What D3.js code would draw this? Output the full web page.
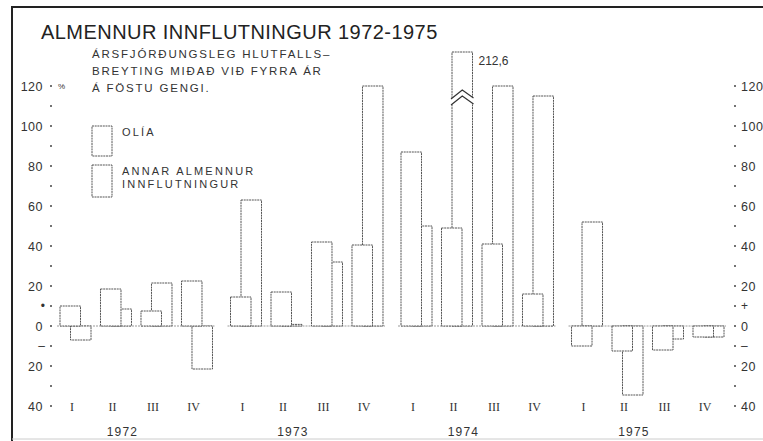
<!DOCTYPE html>
<html>
<head>
<meta charset="utf-8">
<script src="https://cdn.jsdelivr.net/npm/d3@7"></script>
<style>
  body { margin: 0; background: #fff; }
  text { font-family: "Liberation Sans", Arial, sans-serif; fill: #333; }
</style>
</head>
<body>
<script>
// quarterly % change vs previous year, fixed exchange rate
var years = ["1972", "1973", "1974", "1975"];
var quarters = ["I", "II", "III", "IV"];
// front (left) bar of each quarter
var annar = [10, 18.5, 7.5, 22.5, 14.5, 17, 42, 40.5, 87, 49, 41, 16, -10, -12.5, -12, -5.5];
// back (right) bar of each quarter
var olia = [-7, 8.5, 21.5, -21.5, 63, 0.8, 32, 120, 50, 212.6, 120, 115, 52, -34.5, -6.5, -5.5];
var yTicks = [-40, -20, 0, 20, 40, 60, 80, 100, 120];

var W = 763, H = 441;
var breakAt = 137; // truncated bars drawn up to this value

var svg = d3.select("body").append("svg")
  .attr("width", W)
  .attr("height", H);

var y = d3.scaleLinear().domain([-40, 120]).range([406, 86]);
var x0 = d3.scaleBand().domain(years).range([60, 733.5]).paddingInner(0.05);
var x1 = d3.scaleBand().domain(quarters).range([0, x0.bandwidth()]);
var bw = 20.5, off = 10.5;

var rows = [];
years.forEach(function (yr, i) {
  quarters.forEach(function (q, j) {
    rows.push({ year: yr, q: q, annar: annar[i * 4 + j], olia: olia[i * 4 + j] });
  });
});

function bx(d) { return x0(d.year) + x1(d.q); }
function barTop(v) { return Math.min(y(Math.min(v, breakAt)), y(0)); }
function barH(v) { return Math.abs(y(Math.min(v, breakAt)) - y(0)); }

// frame
svg.append("line").attr("x1", 12).attr("x2", 12).attr("y1", 6).attr("y2", H)
  .attr("stroke", "#222").attr("stroke-width", 2);
svg.append("line").attr("x1", 12).attr("x2", W).attr("y1", 7).attr("y2", 7)
  .attr("stroke", "#222").attr("stroke-width", 2);
svg.append("line").attr("x1", 12).attr("x2", W).attr("y1", 439).attr("y2", 439)
  .attr("stroke", "#ccc").attr("stroke-width", 1);

// title
svg.append("text").attr("x", 41).attr("y", 39)
  .style("font-size", "20px").style("letter-spacing", "0.45px").style("fill", "#222")
  .text("ALMENNUR INNFLUTNINGUR 1972-1975");

var sub = ["ÁRSFJÓRÐUNGSLEG HLUTFALLS–", "BREYTING MIÐAÐ VIÐ FYRRA ÁR", "Á FÖSTU GENGI."];
svg.selectAll("text.sub")
  .data(sub)
  .enter().append("text")
  .attr("class", "sub")
  .attr("x", 92)
  .attr("y", function (d, i) { return 58 + i * 17; })
  .style("font-size", "11.5px")
  .style("letter-spacing", "1.8px")
  .text(function (d) { return d; });

// axis dots both sides
var dots = d3.range(-40, 121, 10);
svg.selectAll("circle.ldot")
  .data(dots)
  .enter().append("circle")
  .attr("class", "ldot")
  .attr("cx", 51).attr("cy", function (d) { return y(d); })
  .attr("r", 1).attr("fill", "#444");
svg.selectAll("circle.rdot")
  .data(dots)
  .enter().append("circle")
  .attr("class", "rdot")
  .attr("cx", 735).attr("cy", function (d) { return y(d); })
  .attr("r", 1).attr("fill", "#444");

svg.selectAll("text.ly")
  .data(yTicks)
  .enter().append("text")
  .attr("class", "ly")
  .attr("x", 43).attr("y", function (d) { return y(d) + 4.5; })
  .attr("text-anchor", "end")
  .style("font-size", "12.5px").style("letter-spacing", "0.5px")
  .text(function (d) { return Math.abs(d); });
svg.selectAll("text.ry")
  .data(yTicks)
  .enter().append("text")
  .attr("class", "ry")
  .attr("x", 741).attr("y", function (d) { return y(d) + 4.5; })
  .style("font-size", "12.5px").style("letter-spacing", "0.5px")
  .text(function (d) { return Math.abs(d); });

svg.append("text").attr("x", 45).attr("y", y(10) + 4).attr("text-anchor", "end")
  .style("font-size", "12px").text("•");
svg.append("text").attr("x", 45).attr("y", y(-10) + 4).attr("text-anchor", "end")
  .style("font-size", "12px").text("–");
svg.append("text").attr("x", 741).attr("y", y(10) + 4)
  .style("font-size", "12px").text("+");
svg.append("text").attr("x", 741).attr("y", y(-10) + 4)
  .style("font-size", "12px").text("–");
svg.append("text").attr("x", 58).attr("y", y(120) + 3)
  .style("font-size", "8px").text("%");

// legend
var legend = [["OLÍA"], ["ANNAR ALMENNUR", "INNFLUTNINGUR"]];
var lg = svg.selectAll("g.leg")
  .data(legend)
  .enter().append("g")
  .attr("class", "leg")
  .attr("transform", function (d, i) { return "translate(92," + (126 + i * 39) + ")"; });
lg.append("rect").attr("width", 20).attr("height", function (d, i) { return i ? 32 : 30; })
  .attr("fill", "#fff").attr("stroke", "#555").attr("stroke-width", 1)
  .attr("stroke-dasharray", "2,0.7");
lg.selectAll("text")
  .data(function (d) { return d; })
  .enter().append("text")
  .attr("x", 30)
  .attr("y", function (d, i) { return 9.5 + i * 13; })
  .style("font-size", "11px").style("letter-spacing", "2.2px")
  .text(function (d) { return d; });

// zero baseline per year
svg.selectAll("line.base")
  .data(years)
  .enter().append("line")
  .attr("class", "base")
  .attr("x1", function (d) { return x0(d) - 3; })
  .attr("x2", function (d) { return x0(d) + x1("IV") + off + bw + 2; })
  .attr("y1", y(0)).attr("y2", y(0))
  .attr("stroke", "#999").attr("stroke-width", 1).attr("stroke-dasharray", "2,1");

// back bars
svg.selectAll("rect.olia")
  .data(rows)
  .enter().append("rect")
  .attr("class", "olia")
  .attr("x", function (d) { return bx(d) + off; })
  .attr("y", function (d) { return barTop(d.olia); })
  .attr("width", bw)
  .attr("height", function (d) { return Math.max(barH(d.olia), 0.8); })
  .attr("fill", "#fff").attr("stroke", "#555").attr("stroke-width", 1)
  .attr("stroke-dasharray", "2,0.7");

// front bars
svg.selectAll("rect.annar")
  .data(rows)
  .enter().append("rect")
  .attr("class", "annar")
  .attr("x", function (d) { return bx(d); })
  .attr("y", function (d) { return barTop(d.annar); })
  .attr("width", bw)
  .attr("height", function (d) { return barH(d.annar); })
  .attr("fill", "#fff").attr("stroke", "#555").attr("stroke-width", 1)
  .attr("stroke-dasharray", "2,0.7");

// break marks on truncated bars
var broken = rows.filter(function (d) { return d.olia > breakAt; });
broken.forEach(function (d) {
  var l = bx(d) + off, r = l + bw, m = l + bw / 2;
  var p1 = y(118), p2 = y(115);
  var chev = function (p) { return [[l - 1, p + 9], [m, p], [r + 1, p + 8]]; };
  var a = chev(p1), b = chev(p2);
  svg.append("path")
    .attr("d", d3.line()(a.concat(b.slice().reverse())) + "Z")
    .attr("fill", "#fff").attr("stroke", "none");
  svg.append("path").attr("d", d3.line()(a)).attr("fill", "none").attr("stroke", "#333").attr("stroke-width", 1.2);
  svg.append("path").attr("d", d3.line()(b)).attr("fill", "none").attr("stroke", "#333").attr("stroke-width", 1.2);
  svg.append("text").attr("x", r + 6).attr("y", y(breakAt) + 13)
    .style("font-size", "12px").text(String(d.olia).replace(".", ","));
});

// quarter and year labels
svg.selectAll("text.q")
  .data(rows)
  .enter().append("text")
  .attr("class", "q")
  .attr("x", function (d) { return bx(d) + 12; })
  .attr("y", 411)
  .attr("text-anchor", "middle")
  .style("font-family", "'Liberation Serif', serif")
  .style("font-size", "12px")
  .text(function (d) { return d.q; });
svg.selectAll("text.yr")
  .data(years)
  .enter().append("text")
  .attr("class", "yr")
  .attr("x", function (d) { return x0(d) + x1("II") + 22; })
  .attr("y", 436)
  .attr("text-anchor", "middle")
  .style("font-size", "12px").style("letter-spacing", "1.2px")
  .text(function (d) { return d; });
</script>
</body>
</html>
